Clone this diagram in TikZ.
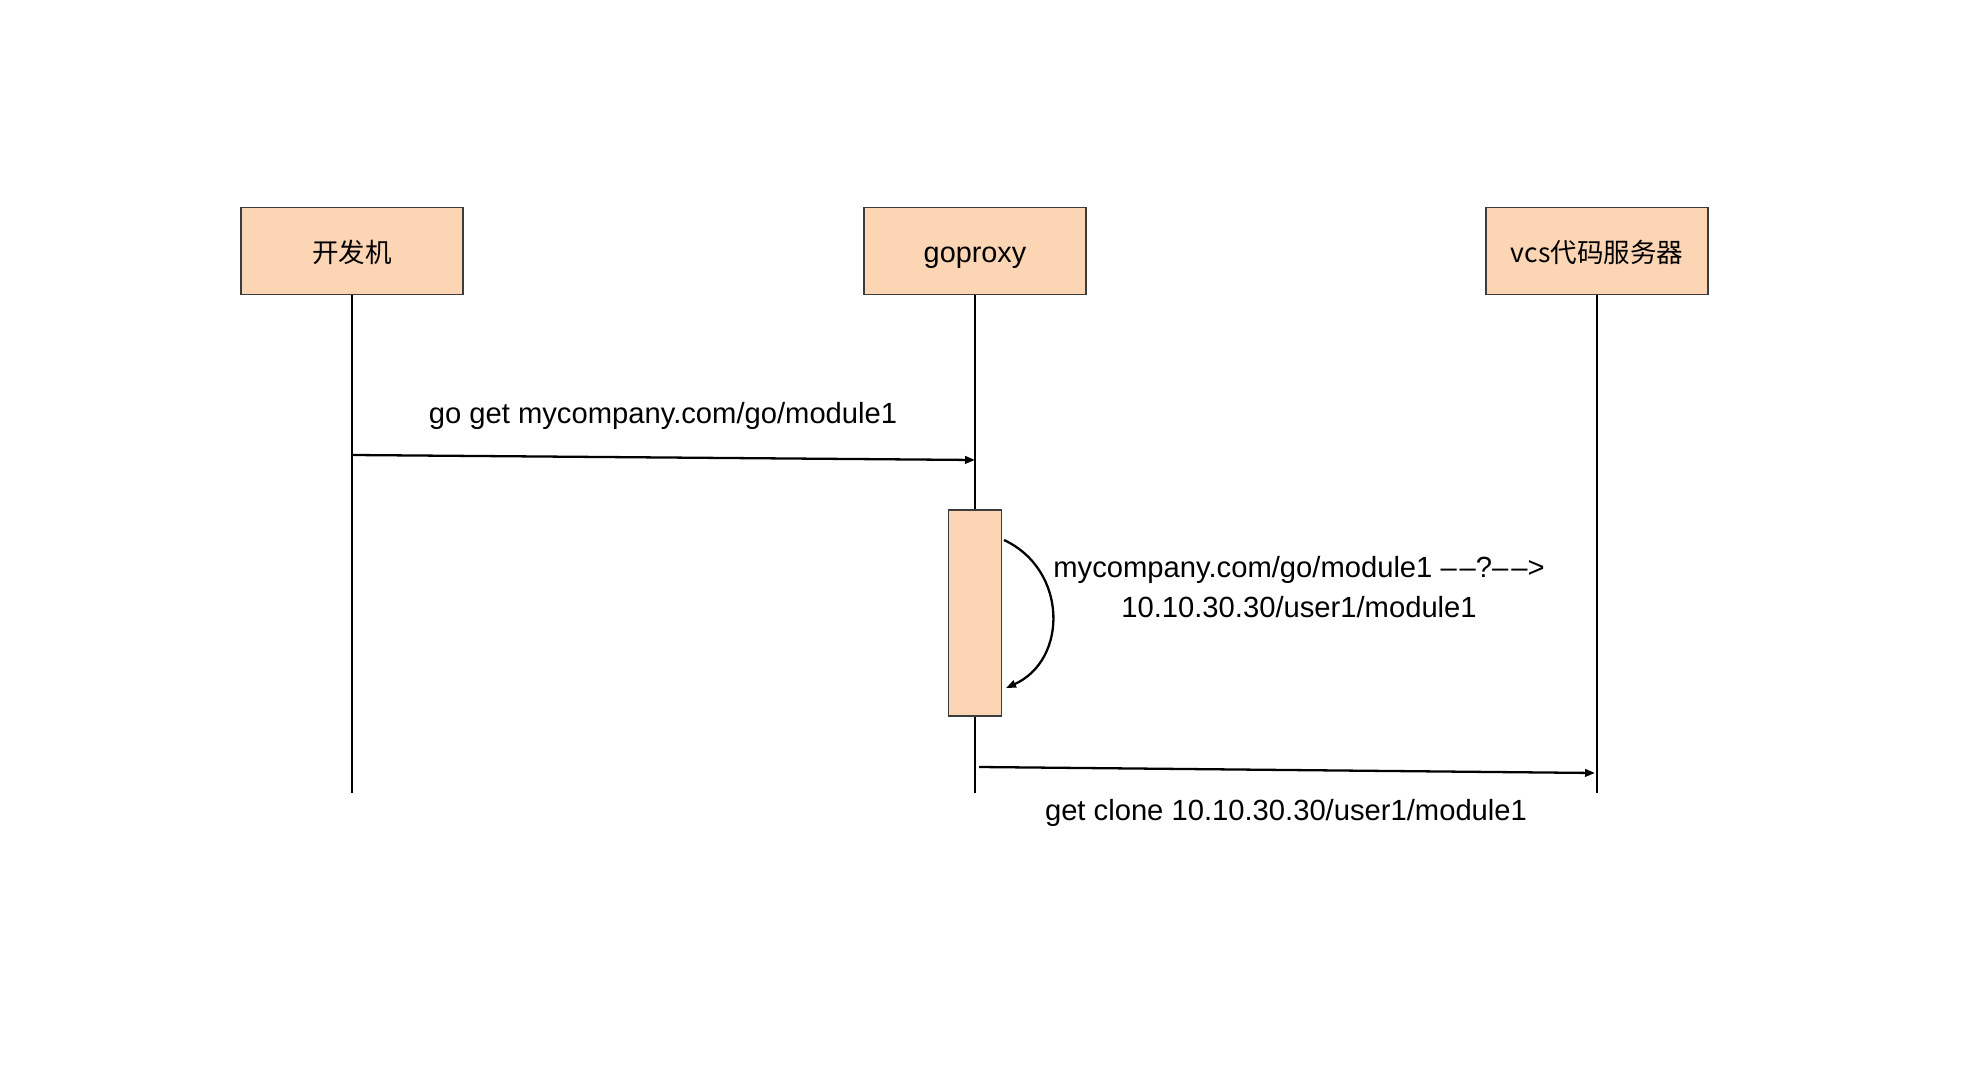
\documentclass[tikz,border=0pt]{standalone}
\usepackage{fontspec}
\setmainfont{Liberation Sans}
\newfontfamily\cjk[Scale=0.92]{Noto Sans CJK SC}
\usetikzlibrary{arrows.meta}
\definecolor{peach}{RGB}{252,213,180}
\definecolor{edge}{RGB}{60,60,60}
\tikzset{
  actor/.style={draw=edge,fill=peach,minimum width=2.22cm,minimum height=0.87cm,inner sep=0pt,
    text height=3.0mm,text depth=0.6mm,font=\fontsize{8.2}{10}\selectfont},
  msg/.style={-{Triangle[length=0.1cm,width=0.075cm]},line width=0.65pt},
  txt/.style={font=\fontsize{8.3}{11.3}\selectfont,align=center,inner sep=0pt}
}
\newcommand{\dd}{–\kern0.1em–}
\begin{document}
\begin{tikzpicture}[x=0.01cm,y=-0.01cm]
    \path[use as bounding box] (0,0) rectangle (1980,1080);
    % participants
    \node[actor] (dev) at (352,251) {\cjk 开发机};
    \node[actor] (proxy) at (975,251) {goproxy};
    \node[actor] (vcs) at (1597,251) {\cjk vcs代码服务器};
    \coordinate (devend) at (352,793);
    \coordinate (proxyend) at (975,793);
    \coordinate (vcsend) at (1597,793);
    \draw[line width=0.65pt] (dev.south) -- (devend);
    \draw[line width=0.65pt] (proxy.south) -- (proxyend);
    \draw[line width=0.65pt] (vcs.south) -- (vcsend);
    % activation
    \node[draw=edge,fill=peach,minimum width=0.53cm,minimum height=2.06cm,inner sep=0pt] (act) at (975,613) {};
    % messages
    \coordinate (m1a) at (352,455);
    \coordinate (m1b) at (975,460);
    \draw[msg] (m1a) -- (m1b);
    \node[txt] (l1) at (663,416) {go get mycompany.com/go/module1};
    \coordinate (m2a) at (1004,540);
    \coordinate (m2b) at (1006,688);
    \draw[msg] (m2a) .. controls (1068,570) and (1068,660) .. (m2b);
    \node[txt] (l2) at (1299,587) {mycompany.com/go/module1 \dd?\dd>\\10.10.30.30/user1/module1};
    \coordinate (m3a) at (979,767);
    \coordinate (m3b) at (1595,773);
    \draw[msg] (m3a) -- (m3b);
    \node[txt] (l3) at (1286,813) {get clone 10.10.30.30/user1/module1};
\end{tikzpicture}
\end{document}
